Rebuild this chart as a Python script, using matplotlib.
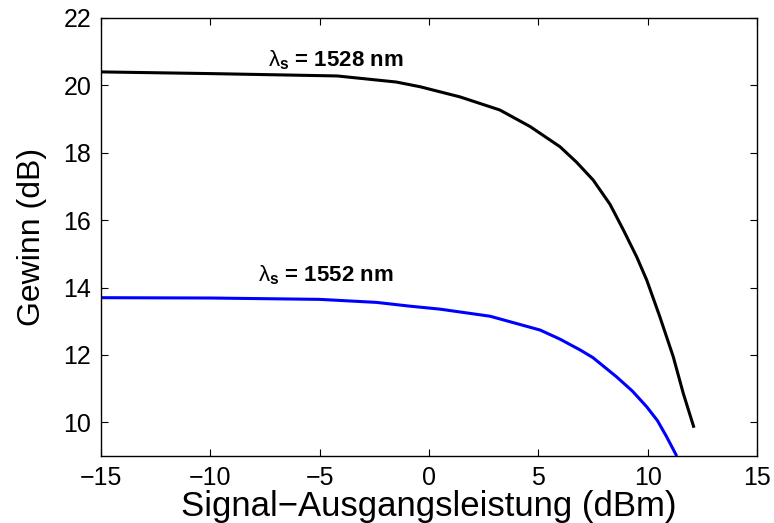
import matplotlib
matplotlib.use("Agg")
import matplotlib.pyplot as plt

plt.rcParams['font.family'] = ['Liberation Sans', 'DejaVu Sans']
plt.rcParams['mathtext.fontset'] = 'custom'
plt.rcParams['mathtext.rm'] = 'Liberation Sans'
plt.rcParams['mathtext.bf'] = 'Liberation Sans:bold'
plt.rcParams['mathtext.it'] = 'Liberation Sans:italic'

# Gain vs. signal output power for two signal wavelengths
p_out_1528 = [-15, -10, -4.2, -1.5, -0.41, 1.41, 3.24, 4.62, 5.99, 6.75, 7.51,
              8.28, 8.89, 9.50, 9.96, 10.56, 11.17, 11.63, 12.12]
gain_1528 = [20.40, 20.35, 20.28, 20.10, 19.96, 19.66, 19.27, 18.78, 18.18, 17.72, 17.19,
             16.47, 15.71, 14.91, 14.22, 13.13, 11.95, 10.86, 9.84]

p_out_1552 = [-15, -10, -5, -2.4, -0.9, 0.5, 2.79, 5.08, 5.99, 6.91, 7.5, 8.58,
              9.3, 9.96, 10.45, 10.87, 11.33]
gain_1552 = [13.70, 13.69, 13.65, 13.56, 13.45, 13.36, 13.15, 12.74, 12.47, 12.15, 11.92, 11.35,
             10.93, 10.46, 10.05, 9.57, 9.0]

x_ticks = [-15, -10, -5, 0, 5, 10, 15]
y_ticks = [10, 12, 14, 16, 18, 20, 22]

fig = plt.figure(figsize=(7.74, 5.23), dpi=100)
ax = fig.add_axes([0.1305, 0.128, 0.8475, 0.8376])

ax.plot(p_out_1528, gain_1528, color='black', lw=2.2, solid_capstyle='butt',
        solid_joinstyle='round')
ax.plot(p_out_1552, gain_1552, color='#0000ff', lw=2.2, solid_capstyle='butt',
        solid_joinstyle='round')

ax.set_xlim(-15, 15)
ax.set_ylim(9, 22)
ax.set_xticks(x_ticks)
ax.set_yticks(y_ticks)
ax.set_xticklabels(['\u2212' + str(-t) if t < 0 else str(t) for t in x_ticks])

ax.tick_params(direction='in', top=True, right=True, length=5, width=0.8,
               labelsize=18)
ax.tick_params(axis='x', pad=7)
ax.tick_params(axis='y', pad=7)
for sp in ax.spines.values():
    sp.set_linewidth(1.0)

ax.set_xlabel('Signal\u2212Ausgangsleistung (dBm)', fontsize=25, labelpad=0)
ax.set_ylabel('Gewinn (dB)', fontsize=23, labelpad=12)

ax.text(-7.36, 20.555, r'$\mathrm{\lambda}_{\mathbf{s}}$ = 1528 nm', fontsize=16,
        fontweight='bold', ha='left', va='baseline')
ax.text(-7.82, 14.18, r'$\mathrm{\lambda}_{\mathbf{s}}$ = 1552 nm', fontsize=16,
        fontweight='bold', ha='left', va='baseline')

fig.savefig('out.png', dpi=100)
